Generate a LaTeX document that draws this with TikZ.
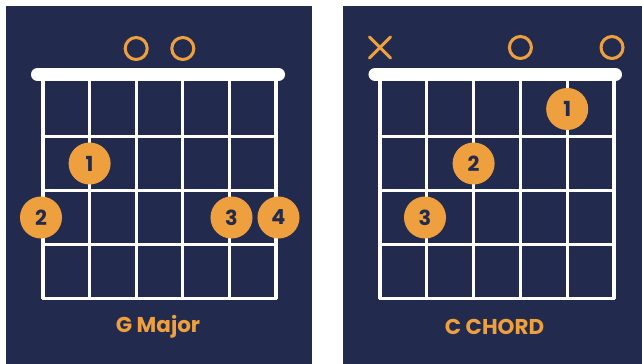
\documentclass[tikz,border=0pt]{standalone}
\usepackage{fontspec}
\setsansfont{Poppins}
\definecolor{Navy}{RGB}{34,42,77}
\definecolor{Gold}{RGB}{239,160,62}
\begin{document}
\begin{tikzpicture}[x=0.01in,y=-0.01in,line cap=round,line join=round,
  panel/.style={fill=Navy},
  wire/.style={draw=white,line width=2.2pt,line cap=butt},
  nutbar/.style={draw=white,line width=9.4pt,line cap=round},
  openstr/.style={draw=Gold,line width=2.2pt},
  finger/.style={circle,fill=Gold,minimum size=0.42in,inner sep=0pt,text=Navy,font=\sffamily\bfseries\fontsize{15}{16}\selectfont},
  chordname/.style={text=Gold,font=\sffamily\bfseries\fontsize{15.5}{17}\selectfont}]
\path[use as bounding box] (0,0) rectangle (642,364);
\fill[white] (0,0) rectangle (642,364);
% panels
\path[panel] (6,6) rectangle (312,364);
\path[panel] (343,6) rectangle (642,364);
% G major grid
\draw[wire] (43,75) -- (43,298.5);
\draw[wire] (89.6,75) -- (89.6,298.5);
\draw[wire] (136.2,75) -- (136.2,298.5);
\draw[wire] (182.8,75) -- (182.8,298.5);
\draw[wire] (229.4,75) -- (229.4,298.5);
\draw[wire] (276,75) -- (276,298.5);
\draw[wire] (41.9,136.5) -- (277.1,136.5);
\draw[wire] (41.9,190.5) -- (277.1,190.5);
\draw[wire] (41.9,244.5) -- (277.1,244.5);
\draw[wire] (41.9,298.5) -- (277.1,298.5);
\draw[nutbar] (37.5,74.5) -- (278.5,74.5);
% C chord grid
\draw[wire] (380,75) -- (380,298.5);
\draw[wire] (426.8,75) -- (426.8,298.5);
\draw[wire] (473.6,75) -- (473.6,298.5);
\draw[wire] (520.4,75) -- (520.4,298.5);
\draw[wire] (567.2,75) -- (567.2,298.5);
\draw[wire] (614,75) -- (614,298.5);
\draw[wire] (378.9,136.5) -- (615.1,136.5);
\draw[wire] (378.9,190.5) -- (615.1,190.5);
\draw[wire] (378.9,244.5) -- (615.1,244.5);
\draw[wire] (378.9,298.5) -- (615.1,298.5);
\draw[nutbar] (375,74.5) -- (615.5,74.5);
% open and muted strings
\draw[openstr] (136.2,48.5) circle[radius=0.11in];
\draw[openstr] (182.8,48.5) circle[radius=0.11in];
\draw[openstr] (520.4,47.5) circle[radius=0.11in];
\draw[openstr] (612,47.5) circle[radius=0.11in];
\draw[openstr] (369.5,37) -- (390.5,58);
\draw[openstr] (369.5,58) -- (390.5,37);
% fingers
\node[finger] (g1) at (89.6,163.5) {1};
\node[finger] (g2) at (41,217.5) {2};
\node[finger] (g3) at (231.5,217.5) {3};
\node[finger] (g4) at (278.5,217.5) {4};
\node[finger] (c1) at (567.2,109) {1};
\node[finger] (c2) at (473.6,163.5) {2};
\node[finger] (c3) at (425,217.5) {3};
% names
\node[chordname] (gname) at (158,327) {G Major};
\node[chordname] (cname) at (494.5,327) {C CHORD};
\end{tikzpicture}
\end{document}
